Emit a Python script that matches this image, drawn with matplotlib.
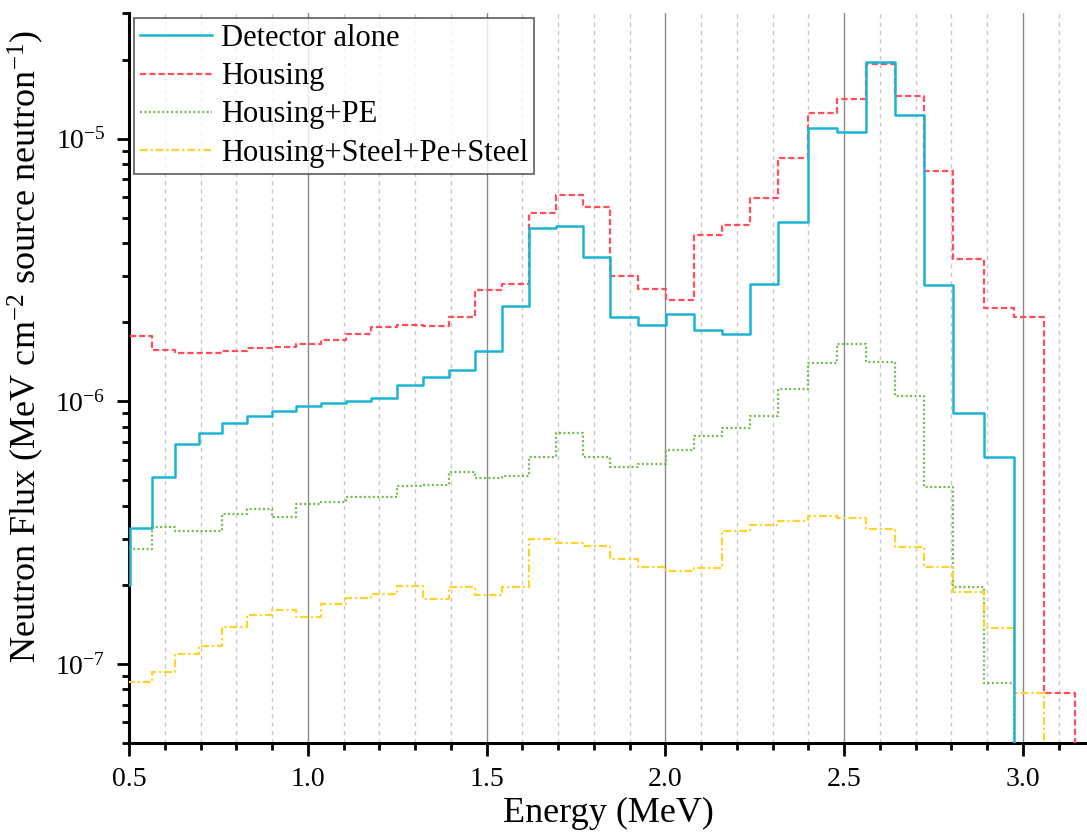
import numpy as np
import matplotlib
matplotlib.use("Agg")
import matplotlib.pyplot as plt
from matplotlib.ticker import MultipleLocator, LogLocator, LogFormatterMathtext, NullFormatter

plt.rcParams['font.family'] = ['Liberation Serif', 'DejaVu Serif']
plt.rcParams['mathtext.fontset'] = 'custom'
plt.rcParams['mathtext.rm'] = 'Liberation Serif'
plt.rcParams['mathtext.it'] = 'Liberation Serif:italic'

# energy bin edges (MeV); first and last edges lie outside the visible range
edges = [0.45, 0.503, 0.5635, 0.6286, 0.6957, 0.7609, 0.8291, 0.8990, 0.9662,
         1.0361, 1.1068, 1.1767, 1.2486, 1.3213, 1.3954, 1.4684, 1.5422, 1.6186,
         1.6932, 1.7687, 1.8459, 1.9234, 2.0008, 2.0791, 2.1574, 2.2366, 2.3157,
         2.3979, 2.4790, 2.5601, 2.6412, 2.7231, 2.8051, 2.8909, 2.9748, 3.0587,
         3.1454, 3.25]

detector_alone = [2.0e-7, 3.28e-7, 5.14e-7, 6.89e-7, 7.58e-7, 8.25e-7, 8.77e-7,
                  9.19e-7, 9.61e-7, 9.86e-7, 1.0e-6, 1.033e-6, 1.157e-6, 1.241e-6,
                  1.32e-6, 1.559e-6, 2.311e-6, 4.565e-6, 4.63e-6, 3.54e-6, 2.086e-6,
                  1.957e-6, 2.142e-6, 1.862e-6, 1.798e-6, 2.786e-6, 4.824e-6,
                  1.095e-5, 1.061e-5, 1.963e-5, 1.234e-5, 2.778e-6, 9.03e-7,
                  6.11e-7, 0, 0, 0]

housing = [1.767e-6, 1.767e-6, 1.563e-6, 1.528e-6, 1.532e-6, 1.555e-6, 1.6e-6,
           1.61e-6, 1.653e-6, 1.706e-6, 1.798e-6, 1.923e-6, 1.945e-6, 1.94e-6,
           2.099e-6, 2.652e-6, 2.786e-6, 5.204e-6, 6.125e-6, 5.485e-6, 3.006e-6,
           2.683e-6, 2.429e-6, 4.315e-6, 4.698e-6, 5.935e-6, 8.445e-6, 1.252e-5,
           1.416e-5, 1.923e-5, 1.454e-5, 7.516e-6, 3.467e-6, 2.265e-6, 2.094e-6,
           7.74e-8, 0]

housing_pe = [2.74e-7, 2.74e-7, 3.32e-7, 3.22e-7, 3.22e-7, 3.72e-7, 3.89e-7,
              3.62e-7, 4.08e-7, 4.15e-7, 4.33e-7, 4.33e-7, 4.77e-7, 4.82e-7,
              5.37e-7, 5.10e-7, 5.19e-7, 6.11e-7, 7.58e-7, 6.11e-7, 5.61e-7,
              5.78e-7, 6.55e-7, 7.39e-7, 7.88e-7, 8.82e-7, 1.118e-6, 1.4e-6,
              1.653e-6, 1.416e-6, 1.051e-6, 4.73e-7, 1.97e-7, 8.45e-8, 0, 0, 0]

housing_steel_pe = [8.57e-8, 8.57e-8, 9.32e-8, 1.095e-7, 1.171e-7, 1.379e-7,
                    1.536e-7, 1.604e-7, 1.509e-7, 1.691e-7, 1.782e-7, 1.852e-7,
                    1.974e-7, 1.767e-7, 1.957e-7, 1.83e-7, 1.957e-7, 2.98e-7,
                    2.88e-7, 2.80e-7, 2.50e-7, 2.33e-7, 2.26e-7, 2.32e-7, 3.20e-7,
                    3.37e-7, 3.51e-7, 3.67e-7, 3.59e-7, 3.26e-7, 2.78e-7, 2.33e-7,
                    1.885e-7, 1.375e-7, 7.72e-8, 0, 0]

labels = ['Detector alone', 'Housing', 'Housing+PE', 'Housing+Steel+Pe+Steel']

fig = plt.figure(figsize=(10.87, 8.35), dpi=100)
ax = fig.add_axes([0.1187, 0.1102, 1 - 0.1187, 0.984 - 0.1102])

def draw(vals, **kw):
    y = list(vals) + [vals[-1]]
    ax.step(edges, y, where='post', **kw)

draw(detector_alone, color='#1cb4d6', lw=1.8, label=labels[0], zorder=5)
draw(housing, color='#ff4d5a', lw=1.6, dashes=(2.8, 1.4), label=labels[1], zorder=4)
draw(housing_pe, color='#74b94c', lw=1.6, dashes=(0.9, 1.1), label=labels[2], zorder=3)
draw(housing_steel_pe, color='#ffd42a', lw=1.6, dashes=(3.5, 1.3, 1.0, 1.3),
     label=labels[3], zorder=3)

ax.set_yscale('log', nonpositive='clip')
ax.set_xlim(0.5, 3.179)
ax.set_ylim(5e-8, 3e-5)

ax.xaxis.set_major_locator(MultipleLocator(0.5))
ax.xaxis.set_minor_locator(MultipleLocator(0.1))
ax.xaxis.set_major_formatter(matplotlib.ticker.FormatStrFormatter('%.1f'))
ax.yaxis.set_major_locator(LogLocator(base=10))
ax.yaxis.set_minor_locator(LogLocator(base=10, subs=np.arange(2, 10)))
ax.yaxis.set_major_formatter(LogFormatterMathtext())
ax.yaxis.set_minor_formatter(NullFormatter())

ax.grid(True, which='major', axis='x', color='#8a8a8a', lw=1.0, ls='-')
ax.grid(True, which='minor', axis='x', color='#c8c8c8', lw=1.0, ls=(0, (3, 3)))
ax.set_axisbelow(True)

for s in ['top', 'right']:
    ax.spines[s].set_visible(False)
for s in ['left', 'bottom']:
    ax.spines[s].set_linewidth(2.2)

ax.tick_params(which='major', direction='out', length=9, width=2, labelsize=20, pad=8)
ax.tick_params(which='minor', direction='out', length=5, width=2)

ax.set_xlabel('Energy (MeV)', fontsize=26, labelpad=4)
ax.set_ylabel('Neutron Flux (MeV cm$^{-2}$ source neutron$^{-1}$)', fontsize=26)
ax.yaxis.set_label_coords(-0.087, 0.543)

leg = ax.legend(loc='upper left', fontsize=22, frameon=True, fancybox=False,
                handlelength=2.35, handletextpad=0.3, labelspacing=0.3,
                borderpad=0.2, borderaxespad=0.15)
leg.get_frame().set_edgecolor('#333333')
leg.get_frame().set_linewidth(1.2)

fig.savefig('out.png', dpi=100)
